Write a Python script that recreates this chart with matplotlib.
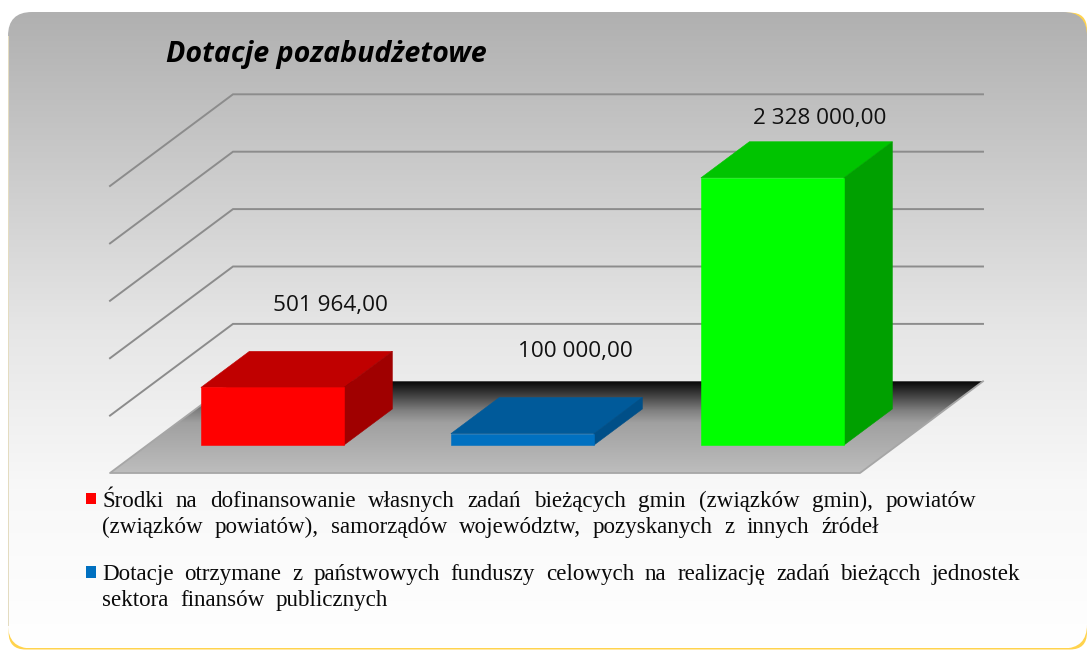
import numpy as np
import matplotlib
matplotlib.use("Agg")
import matplotlib.pyplot as plt
from matplotlib.patches import FancyBboxPatch, Polygon, Rectangle
from matplotlib.colors import LinearSegmentedColormap

# ---- data ----
title = "Dotacje pozabudżetowe"
values = [501964.00, 100000.00, 2328000.00]
value_labels = ["501 964,00", "100 000,00", "2 328 000,00"]
grid_values = [500000, 1000000, 1500000, 2000000, 2500000]
legend_lines_1 = ["Środki na dofinansowanie własnych zadań bieżących gmin (związków gmin), powiatów",
                  "(związków powiatów), samorządów województw, pozyskanych z innych źródeł"]
legend_lines_2 = ["Dotacje otrzymane z państwowych funduszy celowych na realizację zadań bieżącch jednostek",
                  "sektora finansów publicznych"]

# ---- style ----
front = ["#ff0000", "#0070c0", "#00ff00"]
top = ["#c00000", "#005a9a", "#00c400"]
side = ["#a00000", "#004f88", "#00a000"]
label_offset = [(10, -46), (5, -46), (-1, -23)]

W, H = 1087, 650
fig = plt.figure(figsize=(W / 100, H / 100), dpi=100, facecolor="white")
ax = fig.add_axes([0, 0, 1, 1])
ax.axis("off")

# oblique projection of (category position, value, depth) to the pixel frame
X0, Y0 = 110, 473
CAT_W = 250
DX, DY = 123, 91.7
PX_PER_VALUE = 57.4 / 500000
BAR_W = 0.572
D0, D1 = 0.304, 0.698


def proj(c, v, d):
    return (X0 + CAT_W * c + DX * d, Y0 - PX_PER_VALUE * v - DY * d)


# panel: yellow backing that shows at the corners and along the bottom edge
bg_stops = [(0.0, "#b0b0b0"), (0.22, "#c8c8c8"), (0.5, "#e6e6e6"), (0.75, "#f8f8f8"), (1.0, "#ffffff")]
bg_cmap = LinearSegmentedColormap.from_list("bg", bg_stops)
ax.add_patch(FancyBboxPatch((8.6, 12.6), 1078.4, 636.9, boxstyle="round,pad=0,rounding_size=17",
                            fc="#ffd34d", ec="none", zorder=0.5))
ax.add_patch(Rectangle((6, 10), 26, 26, fc="white", ec="none", zorder=0.6))
panel = FancyBboxPatch((8, 12), 1079, 636.5, boxstyle="round,pad=0,rounding_size=24",
                       fc="none", ec="none", zorder=1)
ax.add_patch(panel)
im = ax.imshow(np.linspace(0, 1, 256)[:, None], cmap=bg_cmap, aspect="auto",
               extent=(8, 1087, 648.5, 12), zorder=1, vmin=0, vmax=1)
im.set_clip_path(panel)
ax.add_patch(Rectangle((7.6, 36), 1.0, 590, fc="#e4dcc0", ec="none", zorder=1.6))

# grid lines on the walls
gc = "#8c8c8c"
for v in grid_values:
    p0 = proj(0, v, 0)
    p1 = proj(0, v, 1)
    p2 = proj(3, v, 1)
    ax.plot([p0[0], p1[0], p2[0]], [p0[1], p1[1], p2[1]], color=gc, lw=1.4,
            solid_joinstyle="miter", zorder=2)

# floor
floor_pts = [proj(0, 0, 0), proj(3, 0, 0), proj(3, 0, 1), proj(0, 0, 1)]
floor = Polygon(floor_pts, closed=True, fc="none", ec="none", zorder=3)
ax.add_patch(floor)
floor_cmap = LinearSegmentedColormap.from_list(
    "floor", [(0, "#080808"), (0.15, "#404040"), (0.32, "#808080"), (0.45, "#a0a0a0"), (1, "#bdbdbd")])
fy = [floor_pts[2][1], floor_pts[0][1]]
xs = [p[0] for p in floor_pts]
imf = ax.imshow(np.linspace(0, 1, 128)[:, None], cmap=floor_cmap, aspect="auto",
                extent=(min(xs), max(xs), fy[1], fy[0]), zorder=3, vmin=0, vmax=1)
imf.set_clip_path(floor)
ax.plot([floor_pts[3][0], floor_pts[0][0], floor_pts[1][0], floor_pts[2][0]],
        [floor_pts[3][1], floor_pts[0][1], floor_pts[1][1], floor_pts[2][1]],
        color="#a6a6a6", lw=1.3, zorder=3.1)

# bars
for i, v in enumerate(values):
    cl, cr = i + 0.5 - BAR_W / 2, i + 0.5 + BAR_W / 2
    ax.add_patch(Polygon([proj(cl, v, D0), proj(cr, v, D0), proj(cr, v, D1), proj(cl, v, D1)],
                         fc=top[i], ec=top[i], lw=0.4, zorder=4))
    ax.add_patch(Polygon([proj(cr, 0, D0), proj(cr, v, D0), proj(cr, v, D1), proj(cr, 0, D1)],
                         fc=side[i], ec=side[i], lw=0.4, zorder=4))
    ax.add_patch(Polygon([proj(cl, 0, D0), proj(cr, 0, D0), proj(cr, v, D0), proj(cl, v, D0)],
                         fc=front[i], ec=front[i], lw=0.4, zorder=5))
    bx, by = proj(i + 0.5, v, D1)
    ax.text(bx + label_offset[i][0], by + label_offset[i][1], value_labels[i],
            ha="center", va="center", fontsize=16.2, family="Open Sans", color="#111111", zorder=6)

# title
ax.text(166, 62, title, fontsize=20.6, family="Open Sans", fontweight="bold", fontstyle="italic",
        color="black", ha="left", va="baseline", zorder=6)

# legend
ax.add_patch(Rectangle((86, 493), 10, 11, fc=front[0], ec="none", zorder=6))
ax.add_patch(Rectangle((86, 566), 10, 12, fc=front[1], ec="none", zorder=6))

renderer = fig.canvas.get_renderer()


def justified(line, x0, x1, base):
    """Spread the words of one line between x0 and x1 (pixels)."""
    words = line.split(" ")
    arts = [ax.text(x0, base, w, fontsize=16.6, family="Liberation Serif", color="#0a0a0a",
                    ha="left", va="baseline", zorder=6) for w in words]
    widths = [a.get_window_extent(renderer).width for a in arts]
    gap = (x1 - x0 - sum(widths)) / max(len(words) - 1, 1)
    x = x0
    for a, w in zip(arts, widths):
        a.set_x(x)
        x += w + gap


justified(legend_lines_1[0], 102, 976, 507)
justified(legend_lines_1[1], 102, 879, 533)
justified(legend_lines_2[0], 102, 1020, 580)
justified(legend_lines_2[1], 102, 388, 606)

ax.set_xlim(0, W)
ax.set_ylim(H, 0)
fig.savefig("out.png", dpi=100, facecolor="white")
